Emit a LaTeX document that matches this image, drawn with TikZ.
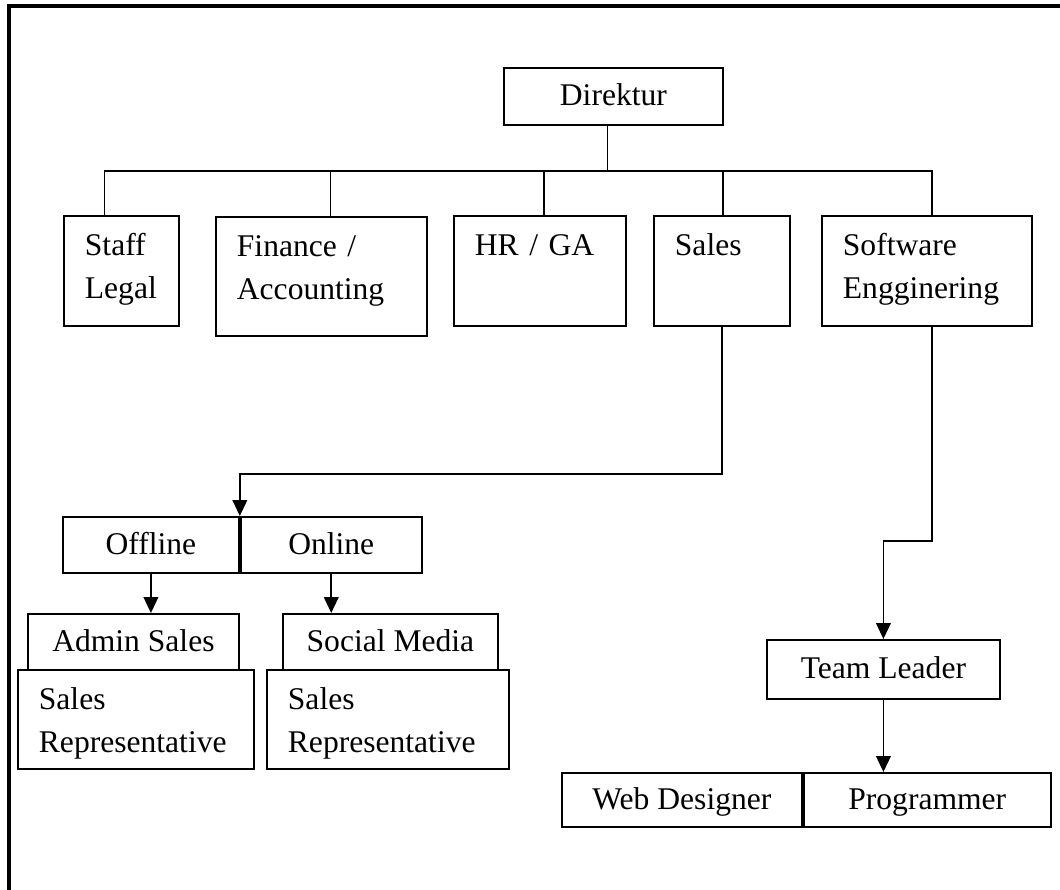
\documentclass[tikz,border=0pt]{standalone}
\usepackage{fontspec}
\setmainfont{Liberation Serif}
\usetikzlibrary{positioning, arrows.meta}

\begin{document}
\begin{tikzpicture}[x=0.38pt, y=-0.38pt,
  font=\fontsize{12pt}{16pt}\selectfont,
  unit/.style 2 args={draw, line width=0.7pt, anchor=north west, inner sep=0pt,
    minimum width={#1*0.38pt}, minimum height={#2*0.38pt},
    text height=0.7em, text depth=0pt},
  dept/.style 2 args={draw, line width=0.7pt, anchor=north west, align=left,
    inner xsep={21*0.38pt}, inner ysep=0pt, text width={(#1-42)*0.38pt},
    text height={40*0.38pt}, text depth={(#2-40)*0.38pt}},
  link/.style={line width=0.6pt},
  arr/.style={line width=0.7pt, -{Triangle[length=6pt, width=5.5pt]}}]
\useasboundingbox (0,0) rectangle (1060,890);
\draw[line width=1.2pt] (9,890) |- (1060,6);

\node[unit={219}{57}] (dir) at (503,67) {Direktur};
\node[dept={115}{110}] (legal) at (63,215) {Staff\\Legal};
\node[dept={211}{119}] (fin) at (215,216) {Finance /\\Accounting};
\node[dept={172}{110}] (hr) at (453,215) {HR / GA};
\node[dept={136}{110}] (sales) at (653,215) {Sales};
\node[dept={210}{110}] (soft) at (821,215) {Software\\Engginering};

\coordinate (bus) at (606,171);
\draw[link] ([xshift=-2.3pt]dir.south) -- ([xshift=-2.3pt]dir.south |- bus);
\foreach \d/\s in {legal/-17, fin/9, hr/4, sales/1, soft/5}
  \draw[link] (dir.south |- bus) -| ([xshift=\s*0.38pt]\d.north);

% sales side
\node[unit={176}{56}] (off) at (62,516) {Offline};
\node[unit={181}{56}, right=0pt of off] (on) {Online};
\node[unit={211}{56}] (adm) at (27,613) {Admin Sales};
\node[dept={236}{99}] (rep1) at (17,669) {Sales\\Representative};
\node[unit={215}{56}] (soc) at (282,613) {Social Media};
\node[dept={242}{99}] (rep2) at (266,669) {Sales\\Representative};

\draw[arr] (sales.south) -- ++(0,147) -| (off.north east);
\draw[arr] (off.south) -- (off.south |- adm.north);
\draw[arr] (on.south) -- (on.south |- soc.north);

% software side
\node[unit={233}{59}] (tl) at (766,639) {Team Leader};
\node[unit={240}{54}] (web) at (561,772) {Web Designer};
\node[unit={247}{54}, right=0pt of web] (prog) {Programmer};

\draw[arr] ([xshift=1.9pt]soft.south) -- ++(0,214) -| (tl.north);
\draw[arr] (tl.south) -- (tl.south |- prog.north);
\end{tikzpicture}
\end{document}
